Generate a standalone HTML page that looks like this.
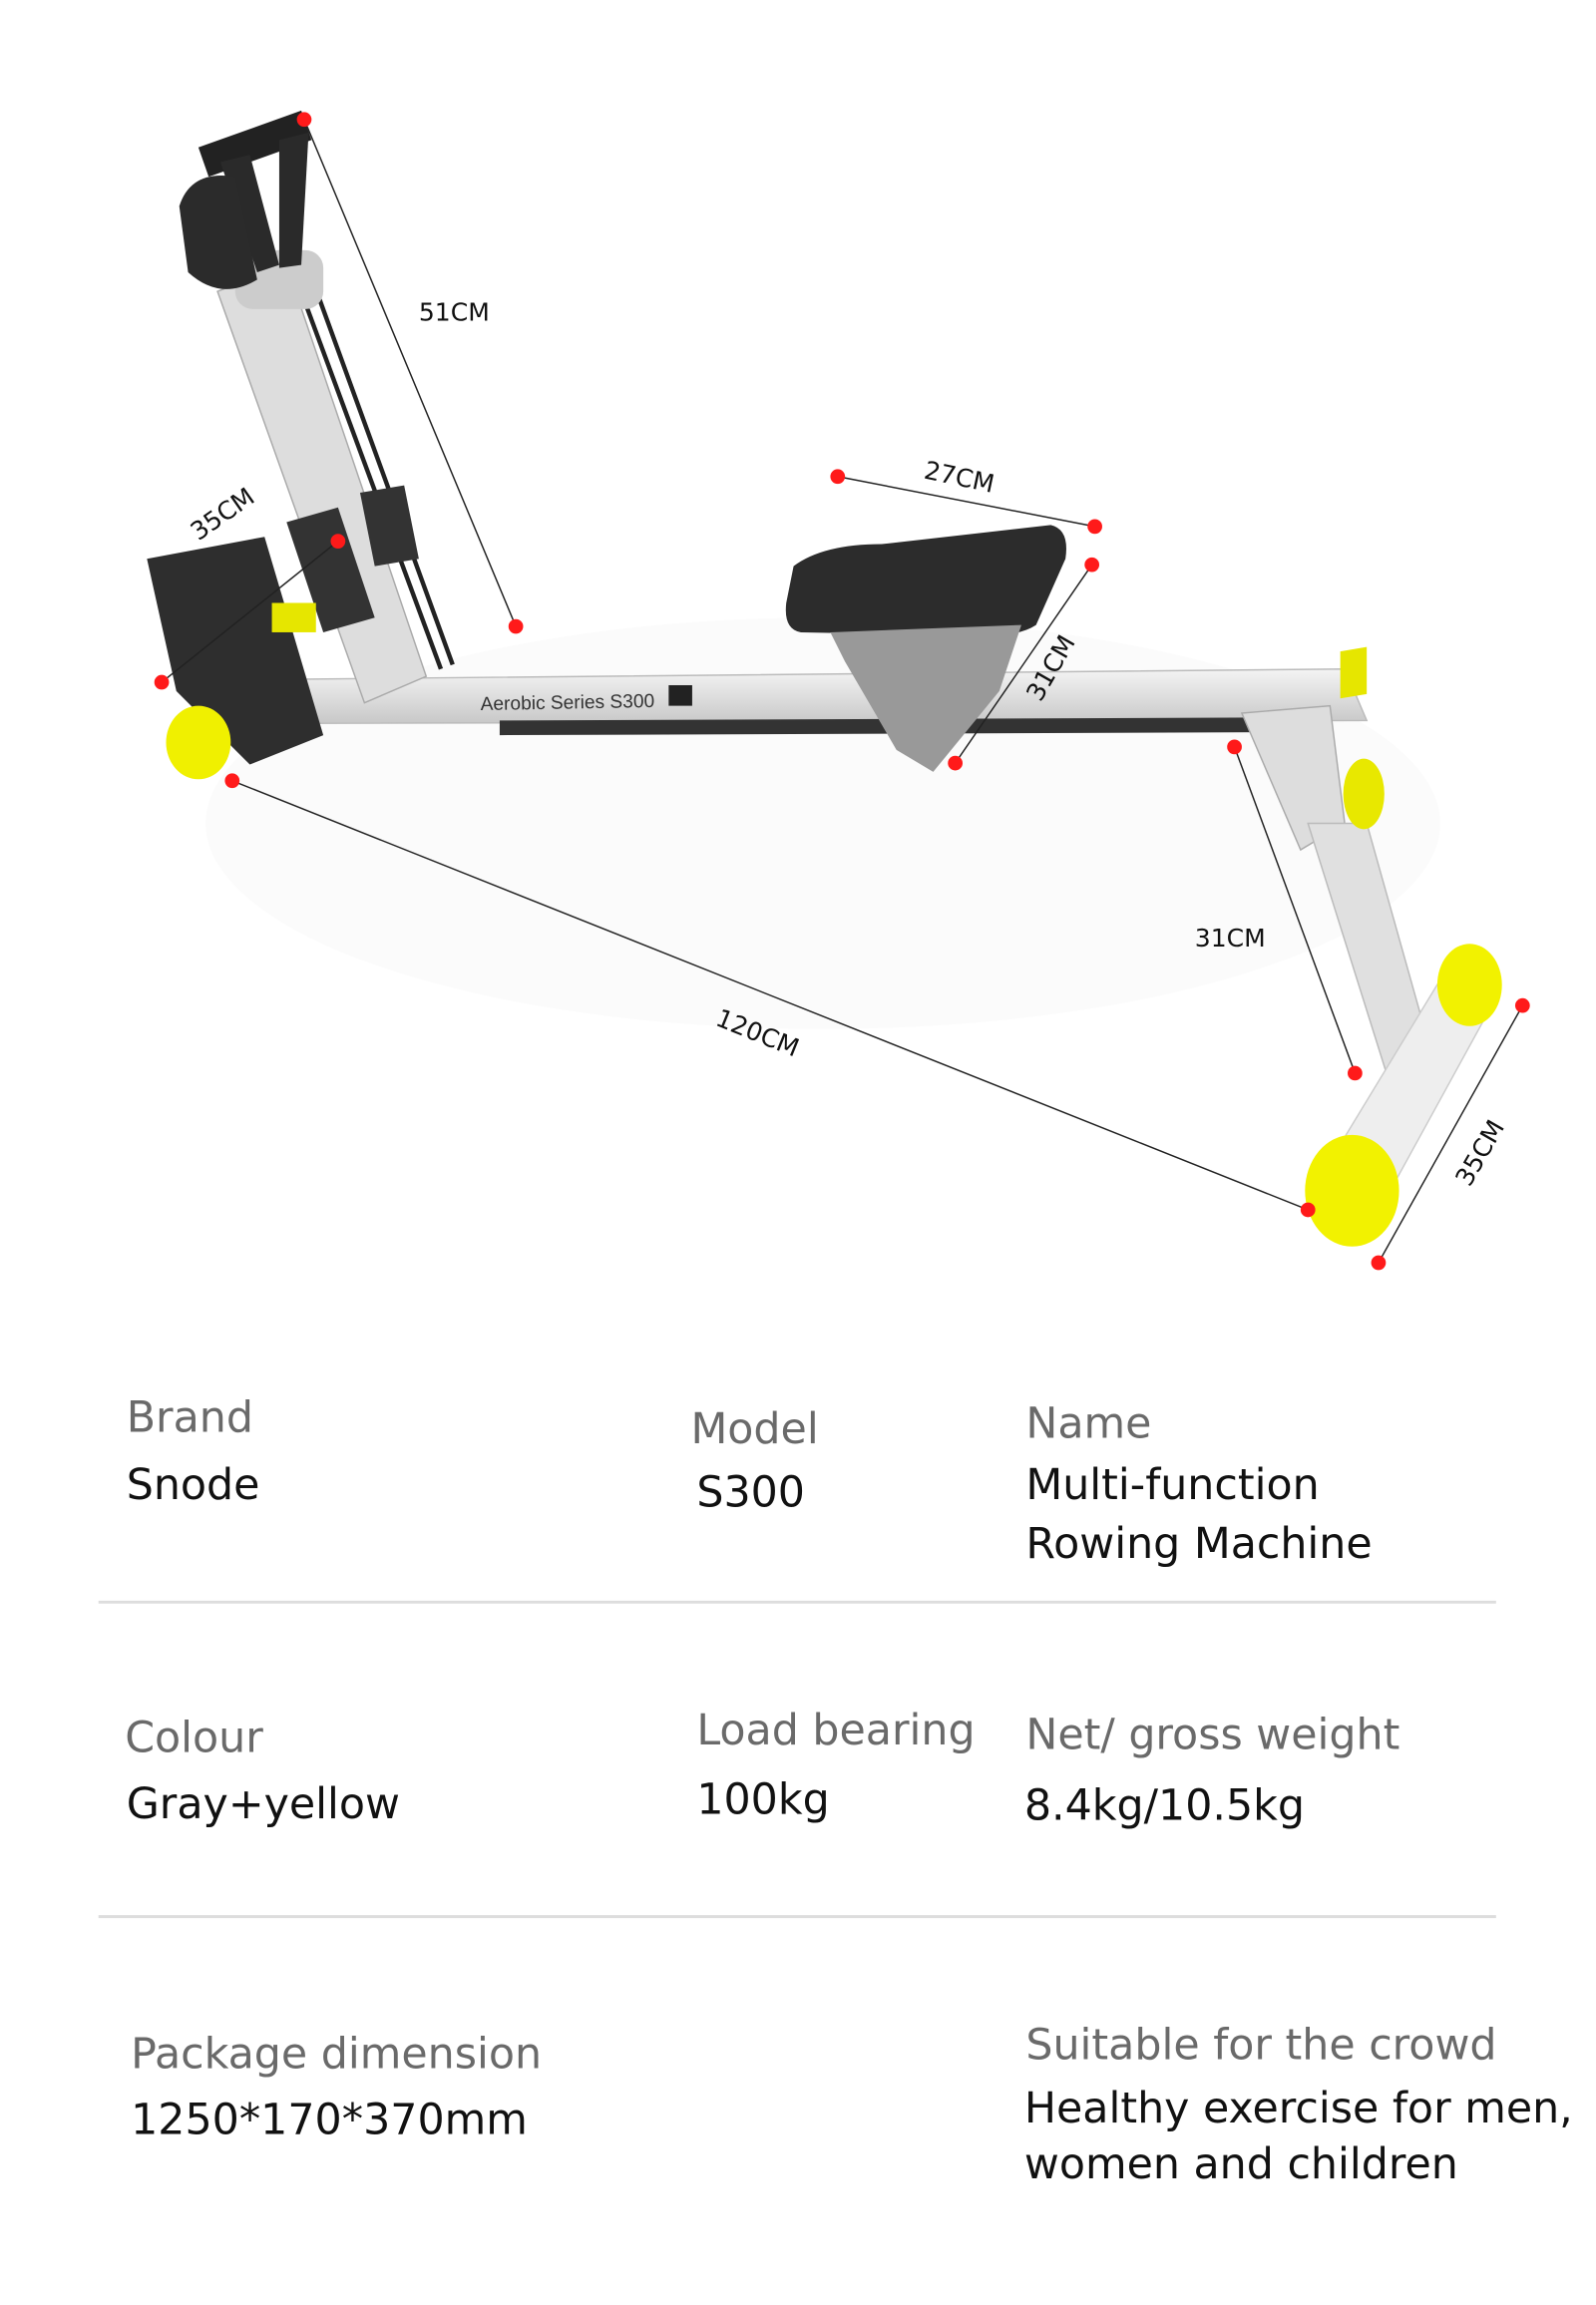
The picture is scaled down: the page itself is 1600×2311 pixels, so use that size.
<!DOCTYPE html>
<html><head><meta charset="utf-8"><style>
html,body{margin:0;padding:0;background:#fff;width:1600px;height:2311px;overflow:hidden}
svg{display:block}
.lab{font-family:"DejaVu Sans","Liberation Sans",sans-serif;fill:#6a6a6a;font-size:29px}
.val{font-family:"DejaVu Sans","Liberation Sans",sans-serif;fill:#111;font-size:29px}
.dim{font-family:"DejaVu Sans","Liberation Sans",sans-serif;fill:#111;font-size:17px}
</style></head><body>
<svg width="1600" height="2311" viewBox="0 0 1086 1568" xmlns="http://www.w3.org/2000/svg">
<defs>
<linearGradient id="rail" x1="0" y1="0" x2="0" y2="1"><stop offset="0" stop-color="#f4f4f4"/><stop offset="1" stop-color="#c8c8c8"/></linearGradient>
</defs>
<ellipse cx="560" cy="560" rx="420" ry="140" fill="#fbfbfb"/>
<polygon points="195,462 915,455 930,490 200,492" fill="url(#rail)" stroke="#bbb"/>
<polygon points="340,490 860,488 860,498 340,500" fill="#333"/>
<polygon points="912,443 930,440 930,472 912,475" fill="#e6e600"/>
<text x="327" y="483" font-family="Liberation Sans,sans-serif" font-size="13" fill="#333" transform="rotate(-1 327 483)">Aerobic Series S300</text>
<rect x="455" y="466" width="16" height="14" fill="#222"/>
<polygon points="148,198 195,180 290,460 248,478" fill="#ddd" stroke="#aaa"/>
<line x1="200" y1="185" x2="300" y2="455" stroke="#222" stroke-width="3"/>
<line x1="210" y1="183" x2="308" y2="452" stroke="#222" stroke-width="3"/>
<rect x="160" y="170" width="60" height="40" rx="12" fill="#ccc"/>
<polygon points="135,100 205,75 212,95 142,120" fill="#222"/>
<polygon points="150,110 170,105 190,180 175,185" fill="#2a2a2a"/>
<polygon points="190,95 210,90 205,180 190,182" fill="#2a2a2a"/>
<path d="M122,140 Q130,115 160,120 L175,190 Q150,205 128,185 Z" fill="#2b2b2b"/>
<polygon points="100,380 180,365 220,500 170,520 120,470" fill="#2e2e2e"/>
<polygon points="195,355 230,345 255,420 220,430" fill="#333"/>
<polygon points="245,335 275,330 285,380 255,385" fill="#333"/>
<rect x="185" y="410" width="30" height="20" fill="#e6e600"/>
<ellipse cx="135" cy="505" rx="22" ry="25" fill="#f0f000"/>
<path d="M540,385 Q560,370 600,370 L715,357 Q728,360 725,380 L705,425 Q690,435 650,432 L545,430 Q533,428 535,410 Z" fill="#2c2c2c"/>
<polygon points="565,430 695,425 680,470 635,525 610,510 575,450" fill="#999"/>
<polygon points="845,485 905,480 915,560 885,578" fill="#ddd" stroke="#aaa"/>
<polygon points="890,560 930,560 975,720 945,735" fill="#e0e0e0" stroke="#bbb"/>
<ellipse cx="928" cy="540" rx="14" ry="24" fill="#e8e800"/>
<polygon points="905,790 990,650 1020,675 935,830" fill="#eee" stroke="#ccc"/>
<ellipse cx="920" cy="810" rx="32" ry="38" fill="#f2f200"/>
<ellipse cx="1000" cy="670" rx="22" ry="28" fill="#f2f200"/>
<g stroke="#222" stroke-width="1">
<line x1="207" y1="81" x2="351" y2="426"/>
<line x1="570" y1="324" x2="745" y2="358"/>
<line x1="743" y1="384" x2="650" y2="519"/>
<line x1="230" y1="368" x2="110" y2="464"/>
<line x1="158" y1="531" x2="890" y2="823"/>
<line x1="840" y1="508" x2="922" y2="730"/>
<line x1="1036" y1="684" x2="938" y2="859"/>
</g>
<g fill="#ff1a1a">
<circle cx="207" cy="81" r="5"/><circle cx="351" cy="426" r="5"/>
<circle cx="570" cy="324" r="5"/><circle cx="745" cy="358" r="5"/>
<circle cx="743" cy="384" r="5"/><circle cx="650" cy="519" r="5"/>
<circle cx="230" cy="368" r="5"/><circle cx="110" cy="464" r="5"/>
<circle cx="158" cy="531" r="5"/><circle cx="890" cy="823" r="5"/>
<circle cx="840" cy="508" r="5"/><circle cx="922" cy="730" r="5"/>
<circle cx="1036" cy="684" r="5"/><circle cx="938" cy="859" r="5"/>
</g>
<text class="dim" x="285" y="218">51CM</text>
<text class="dim" x="628" y="325" transform="rotate(12 628 325)">27CM</text>
<text class="dim" x="708" y="478" transform="rotate(-60 708 478)">31CM</text>
<text class="dim" x="135" y="368" transform="rotate(-35 135 368)">35CM</text>
<text class="dim" x="486" y="697" transform="rotate(22 486 697)">120CM</text>
<text class="dim" x="813" y="644">31CM</text>
<text class="dim" x="1000" y="808" transform="rotate(-60 1000 808)">35CM</text>
<text class="lab" x="86" y="974">Brand</text>
<text class="val" x="86" y="1020">Snode</text>
<text class="lab" x="470" y="982">Model</text>
<text class="val" x="474" y="1025">S300</text>
<text class="lab" x="698" y="978">Name</text>
<text class="val" x="698" y="1020">Multi-function</text>
<text class="val" x="698" y="1060">Rowing Machine</text>
<line x1="67" y1="1090" x2="1018" y2="1090" stroke="#ddd" stroke-width="2"/>
<text class="lab" x="85" y="1192">Colour</text>
<text class="val" x="86" y="1237">Gray+yellow</text>
<text class="lab" x="474" y="1187">Load bearing</text>
<text class="val" x="474" y="1234">100kg</text>
<text class="lab" x="698" y="1190">Net/ gross  weight</text>
<text class="val" x="697" y="1238">8.4kg/10.5kg</text>
<line x1="67" y1="1304" x2="1018" y2="1304" stroke="#ddd" stroke-width="2"/>
<text class="lab" x="89" y="1407">Package dimension</text>
<text class="val" x="89" y="1452">1250*170*370mm</text>
<text class="lab" x="698" y="1401">Suitable for the crowd</text>
<text class="val" x="697" y="1444">Healthy exercise for men,</text>
<text class="val" x="697" y="1482">women and children</text>
</svg>
</body></html>
